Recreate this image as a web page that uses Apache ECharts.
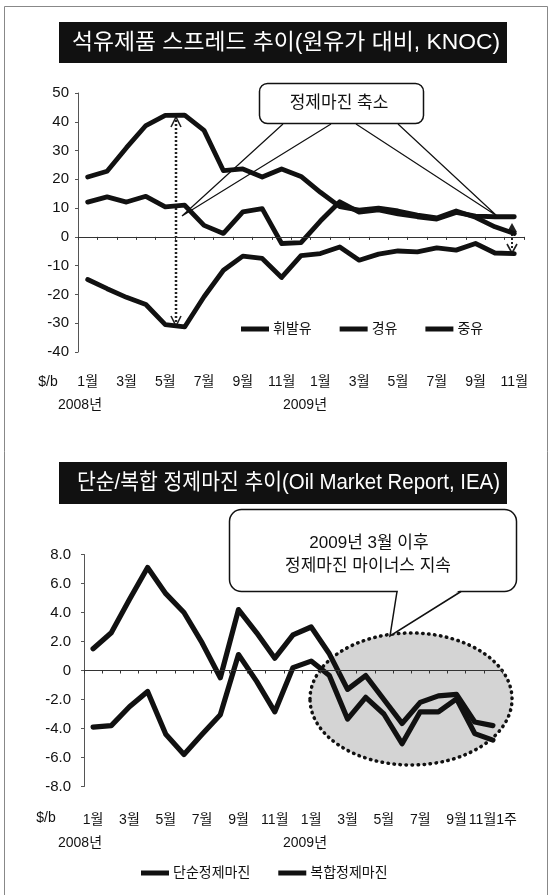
<!DOCTYPE html>
<html>
<head>
<meta charset="utf-8">
<script src="https://cdn.jsdelivr.net/npm/echarts@6/dist/echarts.min.js"></script>
<style>
html,body{margin:0;padding:0;background:#fff;}
#c{width:552px;height:895px;}
</style>
</head>
<body>
<div id="c"></div>
<script>
// ---------- DATA ----------
const topCategories = ['2008-01','2008-02','2008-03','2008-04','2008-05','2008-06','2008-07','2008-08','2008-09','2008-10','2008-11','2008-12',
  '2009-01','2009-02','2009-03','2009-04','2009-05','2009-06','2009-07','2009-08','2009-09','2009-10','2009-11'];
const topTickLabels = ['1월','2월','3월','4월','5월','6월','7월','8월','9월','10월','11월','12월',
  '1월','2월','3월','4월','5월','6월','7월','8월','9월','10월','11월'];
const gasoline = [12.1, 13.9, 12.1, 14.1, 10.4, 11.0, 4.0, 1.2, 8.7, 9.8, -2.3, -2.0,
  5.5, 12.2, 8.6, 9.4, 8.0, 7.0, 6.2, 8.5, 7.2, 7.0, 7.0];
const diesel = [20.8, 22.8, 31.0, 38.7, 42.2, 42.3, 37.0, 23.0, 23.6, 20.8, 23.6, 21.0,
  15.5, 10.5, 9.3, 10.0, 9.0, 7.6, 6.6, 9.0, 6.8, 3.5, 1.2];
const fuelOil = [-14.8, -18.0, -21.0, -23.5, -30.5, -31.3, -20.8, -11.6, -6.7, -7.5, -14.1, -6.5,
  -5.8, -3.5, -8.1, -6.0, -4.9, -5.2, -3.8, -4.6, -2.3, -5.6, -5.8];

const bottomCategories = ['2008-01','2008-02','2008-03','2008-04','2008-05','2008-06','2008-07','2008-08','2008-09','2008-10','2008-11','2008-12',
  '2009-01','2009-02','2009-03','2009-04','2009-05','2009-06','2009-07','2009-08','2009-09','2009-10','2009-11W1'];
const bottomTickLabels = ['1월','2월','3월','4월','5월','6월','7월','8월','9월','10월','11월','12월',
  '1월','2월','3월','4월','5월','6월','7월','8월','9월','10월','11월1주'];
const simpleMargin = [-3.9, -3.8, -2.5, -1.45, -4.4, -5.8, -4.4, -3.05, 1.1, -0.75, -2.85, 0.2,
  0.65, -0.35, -3.35, -1.85, -3.0, -5.05, -2.85, -2.85, -1.95, -4.35, -4.8];
const complexMargin = [1.5, 2.6, 4.9, 7.1, 5.3, 4.0, 1.9, -0.5, 4.2, 2.6, 0.85, 2.45,
  3.0, 1.15, -1.3, -0.35, -2.0, -3.65, -2.2, -1.75, -1.65, -3.55, -3.8];

const topLegend = ['휘발유','경유','중유'];
const bottomLegend = ['단순정제마진','복합정제마진'];
const yearLabels = ['2008년','2009년'];
const unitLabel = '$/b';
const title1 = '석유제품 스프레드 추이(원유가 대비, KNOC)';
const title2 = '단순/복합 정제마진 추이(Oil Market Report, IEA)';
const note1 = '정제마진 축소';
const note2 = ['2009년 3월 이후', '정제마진 마이너스 지속'];

// ---------- STYLE ----------
const FONT = '"Liberation Sans", Arial, "Noto Sans CJK KR", sans-serif';
const INK = '#111';

function textWidth(text, size) {
  const ctx = document.createElement('canvas').getContext('2d');
  ctx.font = size + 'px ' + FONT;
  return ctx.measureText(text).width;
}
const s1 = 428 / textWidth(title1, 22);
const s2 = 423 / textWidth(title2, 22);

const lineSeries = (name, data, xi, yi, w) => ({
  name, type: 'line', data, xAxisIndex: xi, yAxisIndex: yi,
  symbol: 'none', z: 2,
  lineStyle: { color: INK, width: w, join: 'round', cap: 'round' },
  itemStyle: { color: INK }
});

const zeroAxis = (grid, cats) => ({
  gridIndex: grid, type: 'category', data: cats, boundaryGap: true, position: 'bottom', z: 3,
  axisLine: { onZero: true, lineStyle: { color: '#333', width: 1 } },
  axisTick: { show: true, interval: 0, length: 3, lineStyle: { color: '#333' } },
  axisLabel: { show: false }, splitLine: { show: false }
});
const labelAxis = (grid, cats, labels, margin) => ({
  gridIndex: grid, type: 'category', data: cats, boundaryGap: true, position: 'bottom',
  axisLine: { show: false, onZero: false }, axisTick: { show: false }, splitLine: { show: false },
  axisLabel: { show: true, interval: 1, margin, fontSize: 14, color: INK, fontFamily: FONT,
    formatter: (v, i) => labels[i] }
});

const chart = echarts.init(document.getElementById('c'), null, { renderer: 'canvas' });

const option = {
  animation: false,
  backgroundColor: '#fff',
  grid: [
    { left: 78, right: 28, top: 93, height: 259, outerBoundsMode: 'none', containLabel: false },
    { left: 84, right: 50, top: 554.5, height: 232, outerBoundsMode: 'none', containLabel: false }
  ],
  xAxis: [
    zeroAxis(0, topCategories),
    labelAxis(0, topCategories, topTickLabels, 23),
    zeroAxis(1, bottomCategories),
    labelAxis(1, bottomCategories, bottomTickLabels, 27)
  ],
  yAxis: [
    { gridIndex: 0, type: 'value', min: -40, max: 50, interval: 10, z: 3,
      axisLine: { show: true, lineStyle: { color: '#555', width: 1 } },
      axisTick: { show: true, length: 3, lineStyle: { color: '#555' } },
      splitLine: { show: false },
      axisLabel: { fontSize: 15, margin: 9, color: INK, fontFamily: FONT } },
    { gridIndex: 1, type: 'value', min: -8, max: 8, interval: 2, z: 3,
      axisLine: { show: true, lineStyle: { color: '#555', width: 1 } },
      axisTick: { show: true, length: 3, lineStyle: { color: '#555' } },
      splitLine: { show: false },
      axisLabel: { fontSize: 15, margin: 13, color: INK, fontFamily: FONT,
        formatter: v => (v === 0 ? '0' : v.toFixed(1)) } }
  ],
  legend: [
    { data: topLegend, left: 241, top: 322, orient: 'horizontal', padding: 0,
      icon: 'rect', itemWidth: 28, itemHeight: 5, itemGap: 28,
      textStyle: { fontSize: 14, color: INK, fontFamily: FONT, padding: [0, 0, 0, -1] } },
    { data: bottomLegend, left: 141, top: 866, orient: 'horizontal', padding: 0,
      icon: 'rect', itemWidth: 28, itemHeight: 5, itemGap: 28,
      textStyle: { fontSize: 14, color: INK, fontFamily: FONT, padding: [0, 0, 0, -1] } }
  ],
  series: [
    lineSeries('휘발유', gasoline, 0, 0, 4.8),
    lineSeries('경유', diesel, 0, 0, 4.8),
    lineSeries('중유', fuelOil, 0, 0, 4.8),
    lineSeries('단순정제마진', simpleMargin, 2, 1, 5.2),
    lineSeries('복합정제마진', complexMargin, 2, 1, 5.2)
  ],
  graphic: [
    // outer frame
    { type: 'rect', silent: true, shape: { x: 4.5, y: 6.5, width: 543, height: 900 },
      style: { fill: null, stroke: '#888', lineWidth: 1 } },
    // titles
    { type: 'rect', shape: { x: 59, y: 22, width: 448, height: 41 }, style: { fill: '#111' } },
    { type: 'text', x: 286, y: 43, scaleX: s1, z: 10,
      style: { text: title1, fill: '#fff', fontSize: 22, fontFamily: FONT, align: 'center', verticalAlign: 'middle' } },
    { type: 'rect', shape: { x: 59, y: 462, width: 448, height: 42 }, style: { fill: '#111' } },
    { type: 'text', x: 288.5, y: 483, scaleX: s2, z: 10,
      style: { text: title2, fill: '#fff', fontSize: 22, fontFamily: FONT, align: 'center', verticalAlign: 'middle' } },

    // top callout
    { type: 'rect', shape: { x: 259.5, y: 83.5, width: 164, height: 40, r: 8 },
      style: { fill: '#fff', stroke: INK, lineWidth: 1.5 } },
    { type: 'text', x: 339, y: 103, style: { text: note1, fill: INK, fontSize: 17, fontFamily: FONT, align: 'center', verticalAlign: 'middle' } },
    { type: 'polyline', shape: { points: [[283, 124], [182, 216], [331, 124]] },
      style: { fill: null, stroke: INK, lineWidth: 1.2 } },
    { type: 'polyline', shape: { points: [[356, 124], [497, 216], [398, 124]] },
      style: { fill: null, stroke: INK, lineWidth: 1.2 } },

    // top arrows
    { type: 'line', shape: { x1: 176, y1: 120, x2: 176, y2: 323 },
      style: { stroke: '#222', lineWidth: 2.5, lineDash: [2, 2] } },
    { type: 'polyline', shape: { points: [[171, 127], [176, 117], [181, 127]] },
      style: { fill: null, stroke: '#222', lineWidth: 1.6 } },
    { type: 'polyline', shape: { points: [[171, 316], [176, 326], [181, 316]] },
      style: { fill: null, stroke: '#222', lineWidth: 1.6 } },
    { type: 'line', shape: { x1: 512, y1: 230, x2: 512, y2: 250 },
      style: { stroke: '#222', lineWidth: 2, lineDash: [2, 2] } },
    { type: 'polygon', shape: { points: [[507, 232], [512, 223], [517, 232]] },
      style: { fill: '#222' } },
    { type: 'polyline', shape: { points: [[507, 244], [512, 253], [517, 244]] },
      style: { fill: null, stroke: '#222', lineWidth: 1.6 } },

    // bottom ellipse highlight
    { type: 'ellipse', z: -1, shape: { cx: 411, cy: 699, rx: 101, ry: 66 },
      style: { fill: '#d4d4d4', stroke: '#111', lineWidth: 3.5, lineDash: [0.5, 5.5], lineCap: 'round' } },

    // bottom callout
    { type: 'rect', shape: { x: 229.5, y: 509.5, width: 287, height: 82, r: 12 },
      style: { fill: '#fff', stroke: INK, lineWidth: 1.5 } },
    { type: 'polygon', shape: { points: [[398, 590], [391, 635], [460, 590]] },
      style: { fill: '#fff' } },
    { type: 'polyline', shape: { points: [[397, 591.5], [390, 636], [461, 591.5]] },
      style: { fill: null, stroke: INK, lineWidth: 1.5 } },
    { type: 'text', x: 369, y: 543, style: { text: note2[0], fill: INK, fontSize: 17, fontFamily: FONT, align: 'center', verticalAlign: 'middle' } },
    { type: 'text', x: 368, y: 566, style: { text: note2[1], fill: INK, fontSize: 17, fontFamily: FONT, align: 'center', verticalAlign: 'middle' } },

    // unit and year labels
    { type: 'text', x: 48, y: 382, style: { text: unitLabel, fill: INK, fontSize: 14, fontFamily: FONT, align: 'center', verticalAlign: 'middle' } },
    { type: 'text', x: 80, y: 405, style: { text: yearLabels[0], fill: INK, fontSize: 14, fontFamily: FONT, align: 'center', verticalAlign: 'middle' } },
    { type: 'text', x: 305, y: 405, style: { text: yearLabels[1], fill: INK, fontSize: 14, fontFamily: FONT, align: 'center', verticalAlign: 'middle' } },
    { type: 'text', x: 46, y: 818, style: { text: unitLabel, fill: INK, fontSize: 14, fontFamily: FONT, align: 'center', verticalAlign: 'middle' } },
    { type: 'text', x: 80, y: 843, style: { text: yearLabels[0], fill: INK, fontSize: 14, fontFamily: FONT, align: 'center', verticalAlign: 'middle' } },
    { type: 'text', x: 305, y: 843, style: { text: yearLabels[1], fill: INK, fontSize: 14, fontFamily: FONT, align: 'center', verticalAlign: 'middle' } }
  ]
};
chart.setOption(option);
</script>
</body>
</html>
